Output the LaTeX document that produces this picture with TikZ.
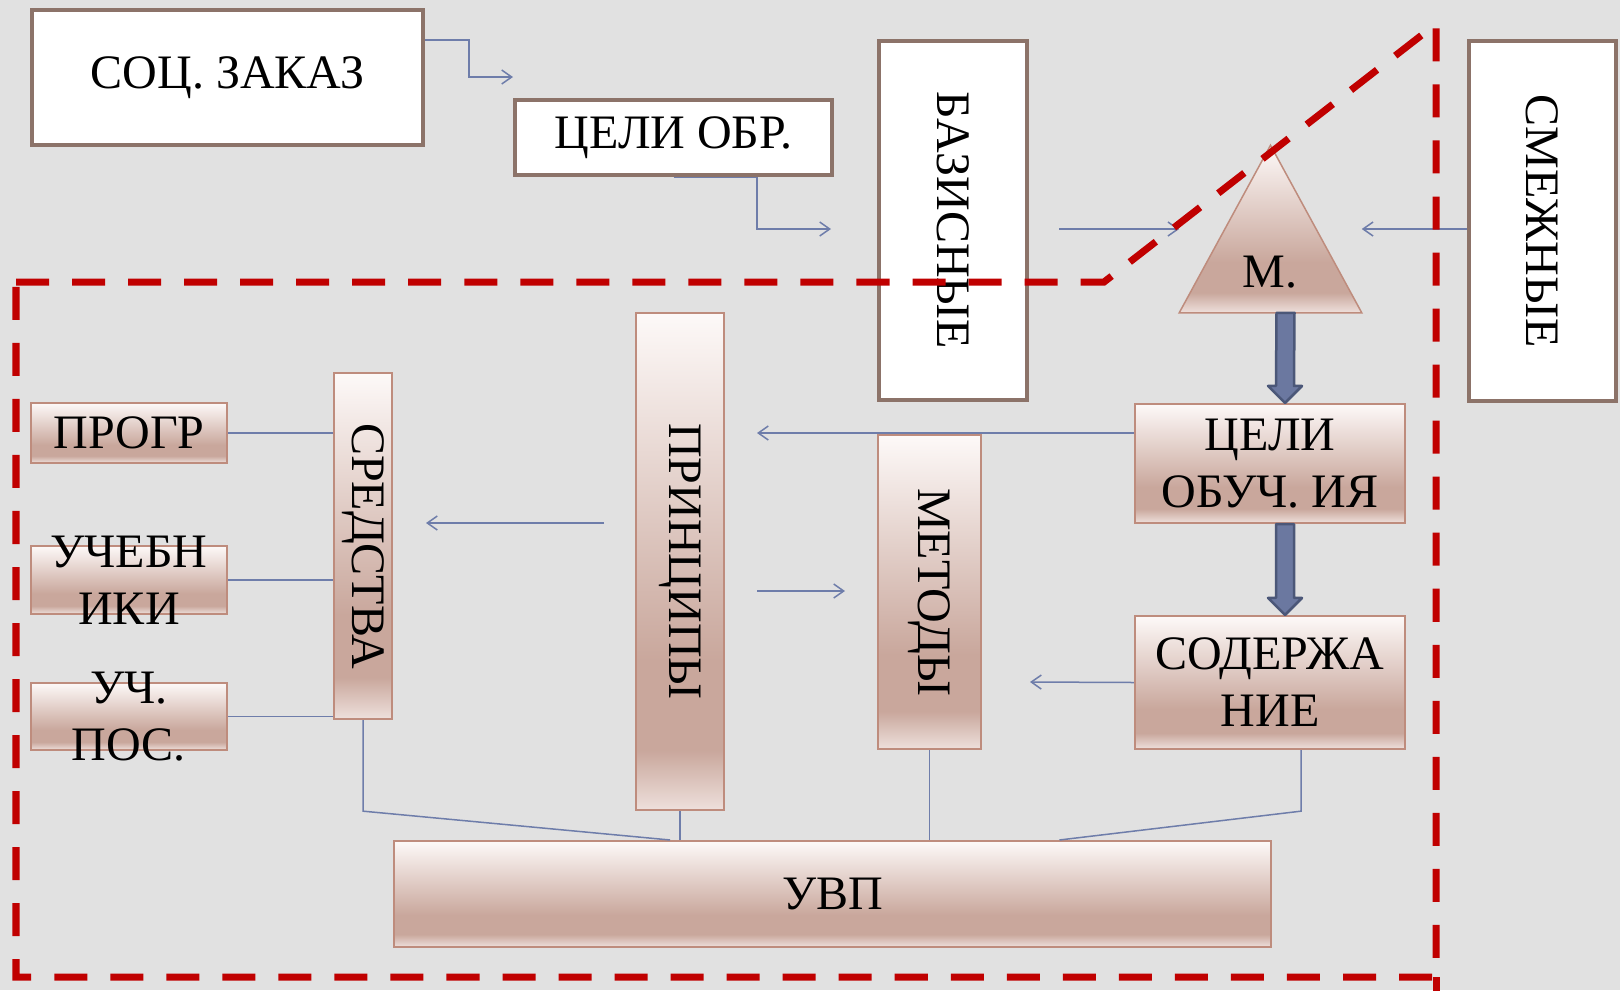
\documentclass[tikz,border=0pt]{standalone}
\usepackage{fontspec}
\setmainfont{Liberation Serif}
\usepackage{graphicx}
\usetikzlibrary{calc, arrows.meta}
\definecolor{bggray}{RGB}{225,225,225}
\definecolor{framebrown}{RGB}{140,115,105}
\definecolor{roseline}{RGB}{190,140,125}
\definecolor{rosetop}{RGB}{253,249,248}
\definecolor{rosemid}{RGB}{201,167,156}
\definecolor{rosebot}{RGB}{238,224,220}
\definecolor{linkblue}{RGB}{110,125,170}
\definecolor{fatfill}{RGB}{107,120,160}
\definecolor{fatline}{RGB}{75,87,120}
\definecolor{dashred}{RGB}{192,0,0}
\pgfdeclareverticalshading{rosegrad}{100bp}{color(0bp)=(rosebot); color(25bp)=(rosebot); color(31bp)=(rosemid); color(40bp)=(rosemid); color(75bp)=(rosetop); color(100bp)=(rosetop)}
\newcommand{\SlideFont}{\fontsize{13.66}{16.2}\selectfont}
\newcommand{\DownText}[1]{\rotatebox{-90}{#1}}
\newcommand{\FatArrow}[2]{\draw[fatarrow] ($(#1)+(-9,0)$) -- ($(#2)+(-9,-17)$) -- ($(#2)+(-17,-17)$) -- (#2) -- ($(#2)+(17,-17)$) -- ($(#2)+(9,-17)$) -- ($(#1)+(9,0)$) -- cycle;}

\begin{document}
\begin{tikzpicture}[x=0.01cm, y=-0.01cm,
  whitebox/.style={draw=framebrown, line width=0.045cm, fill=white, inner sep=0pt, font=\SlideFont},
  rosebox/.style={draw=roseline, line width=0.02cm, shade, shading=rosegrad, inner sep=0pt, font=\SlideFont, align=center},
  link/.style={draw=linkblue, line width=0.015cm},
  tolink/.style={link, -{Straight Barb[length=0.1cm, width=0.14cm]}},
  fatarrow/.style={draw=fatline, fill=fatfill, line width=0.025cm, line join=round},
  frontier/.style={draw=dashred, line width=0.07cm, dash pattern=on 0.33cm off 0.23cm}]
  \useasboundingbox (0,0) rectangle (1620,990);
  \fill[bggray] (0,0) rectangle (1620,990);

  \node[whitebox, minimum width=3.91cm, minimum height=1.35cm] (zakaz)   at (227.5,77.5)  {СОЦ. ЗАКАЗ};
  \node[whitebox, minimum width=3.17cm, minimum height=0.75cm] (celiobr) at (673.5,137.5) {ЦЕЛИ ОБР.};
  \node[whitebox, minimum width=1.48cm, minimum height=3.59cm] (bazis)   at (953,220.5)   {\DownText{БАЗИСНЫЕ}};
  \node[whitebox, minimum width=1.47cm, minimum height=3.60cm] (smezh)   at (1542.5,221)  {\DownText{СМЕЖНЫЕ}};

  \node[minimum width=1.81cm, minimum height=1.66cm, inner sep=0pt] (tri) at (1270.5,229) {};
  \shade[shading=rosegrad, draw=roseline, line width=0.015cm] (tri.north) -- (tri.south east) -- (tri.south west) -- cycle;
  \node[font=\SlideFont] (mlabel) at (1270,272) {М.};

  \node[rosebox, minimum width=2.70cm, minimum height=1.19cm] (cobuch)   at (1270,463.5) {ЦЕЛИ\\ОБУЧ. ИЯ};
  \node[rosebox, minimum width=2.70cm, minimum height=1.33cm] (cont)     at (1270,682.5) {СОДЕРЖА\\НИЕ};
  \node[rosebox, minimum width=0.88cm, minimum height=4.97cm] (princ)    at (680,561.5)  {\DownText{ПРИНЦИПЫ}};
  \node[rosebox, minimum width=1.03cm, minimum height=3.14cm] (metody)   at (929.5,592)  {\DownText{МЕТОДЫ}};
  \node[rosebox, minimum width=0.58cm, minimum height=3.46cm] (sredstva) at (363,546)    {\DownText{СРЕДСТВА}};
  \node[rosebox, minimum width=1.96cm, minimum height=0.60cm] (progr)    at (129,433)    {ПРОГР};
  \node[rosebox, minimum width=1.96cm, minimum height=0.68cm] (ucheb)    at (129,580)    {};
  \node[font=\SlideFont, align=center] (uchebtxt) at (ucheb) {УЧЕБН\\ИКИ};
  \node[rosebox, minimum width=1.96cm, minimum height=0.67cm] (uchpos)   at (129,716.5)  {};
  \node[font=\SlideFont, align=center] (uchpostxt) at (uchpos) {УЧ.\\ПОС.};
  \node[rosebox, minimum width=8.77cm, minimum height=1.06cm] (uvp)      at (832.5,894)  {УВП};

  \coordinate (zakazout)  at (513,77);
  \coordinate (celiout)   at (831,229);
  \coordinate (princin)   at (757,433);
  \coordinate (princout)  at (604,523);
  \coordinate (sredin)    at (426,523);
  \coordinate (princout2) at (757,591);
  \coordinate (metin)     at (845,591);
  \coordinate (metin2)    at (1030,682);
  \coordinate (fat1s) at ($(tri.south)+(15,0)$);
  \coordinate (fat1e) at ($(cobuch.north)+(15,0)$);
  \coordinate (fat2s) at ($(cobuch.south)+(15,0)$);
  \coordinate (fat2e) at ($(cont.north)+(15,0)$);

  \draw[tolink] (zakaz.east |- 0,40) -| (469,77) -- (zakazout);
  \draw[tolink] (celiobr.south) -| (757,229) -- (celiout);
  \draw[tolink] ($(bazis.east |- tri.west)+(30,0)$) -- (tri.west);
  \draw[tolink] (smezh.west |- tri.east) -- (tri.east);
  \FatArrow{fat1s}{fat1e}
  \FatArrow{fat2s}{fat2e}

  \draw[tolink] (cobuch.west |- princin) -- (princin);
  \draw[tolink] (princout) -- (sredin);
  \draw[tolink] (princout2) -- (metin);
  \draw[tolink] (cont.west) -- (metin2);

  \draw[link] (progr.east) -- (sredstva.west |- progr.east);
  \draw[link] (ucheb.east) -- (sredstva.west |- ucheb.east);
  \draw[link] (uchpos.east) -- (sredstva.west |- uchpos.east);
  \draw[link] (sredstva.south) -- (sredstva.south |- princ.south) -- ($(princ.south |- uvp.north)+(-10,0)$);
  \draw[link] (princ.south) -- (princ.south |- uvp.north);
  \draw[link] (metody.south) -- (metody.south |- uvp.north);
  \draw[link] ($(cont.south)+(31,0)$) -- ($(cont.south |- princ.south)+(31,0)$) -- ($(uvp.north)+(227,0)$);

  \draw[frontier] (16,282) -- (1104,282) -- (1436,24) -- (1436,977) -- (16,977) -- cycle;
  \draw[frontier] (1436,977) -- (1436,995);
\end{tikzpicture}
\end{document}
